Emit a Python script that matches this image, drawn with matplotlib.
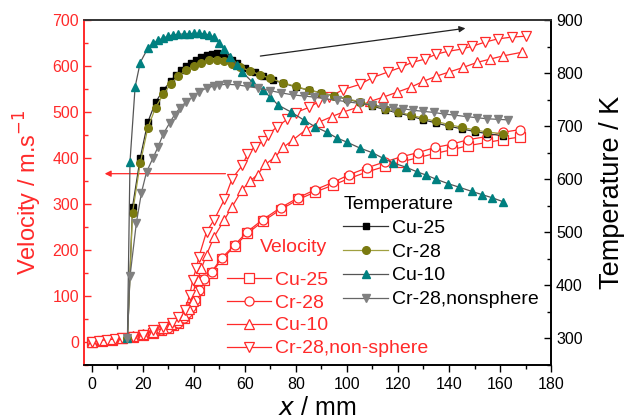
import matplotlib
matplotlib.use('Agg')
import matplotlib.pyplot as plt
from matplotlib.ticker import MultipleLocator

plt.rcParams['font.family'] = ['Liberation Sans', 'DejaVu Sans']

RED = '#ff2a2a'

# velocity data (left axis, m/s)
vx_cu25 = [0, 4, 8, 12, 16, 20, 24, 27, 30, 32, 34, 36, 37.5, 39, 40.5, 42, 44, 47, 51, 56,
           61, 67, 74, 81, 87.5, 94.5, 101, 108, 115, 121.5, 128, 134.5, 141, 147.5, 155, 161, 168]
v_cu25 = [0, 3, 5, 8, 11, 15, 20, 25, 31, 36, 42, 52, 62, 75, 92, 112, 135, 150, 180, 208,
          236, 262, 288, 310, 326, 341, 356, 370, 382, 392, 401, 410, 418, 427, 434, 440, 446]
vx_cr28 = vx_cu25
v_cr28 = [0, 3, 5, 8, 11, 15, 20, 25, 31, 36, 42, 52, 62, 75, 92, 112, 138, 153, 183, 211,
          240, 266, 292, 314, 331, 347, 364, 379, 392, 403, 412, 423, 430, 440, 447, 456, 462]
vx_cu10 = [0, 4, 8, 12, 16, 20, 24, 28, 31, 34, 36, 38, 39.5, 40.5, 41.5, 43, 45, 48, 52, 55,
           59, 62, 65, 68, 72, 75, 79, 84, 89, 94, 98.5, 104, 109, 114, 119.5, 125, 130, 135, 140, 145.5,
           151, 156, 161, 168.5]
v_cu10 = [0, 4, 6, 9, 12, 17, 22, 30, 38, 48, 58, 72, 90, 110, 135, 160, 190, 229, 266, 294,
          331, 350, 364, 386, 403, 423, 440, 462, 478, 490, 500, 510, 523, 532, 543, 554, 567, 578, 587, 597,
          608, 615, 622, 630]
vx_ns = [0, 3, 6, 9, 12, 16, 20, 24, 28, 31.5, 34, 36.5, 38.4, 39.6, 41, 42, 45, 48, 52, 55,
         59, 61, 64, 67, 69, 72.5, 76.5, 80, 85, 88.5, 93, 98.5, 105, 110, 116, 121, 125.5, 130.5, 135, 139.5,
         145, 149, 154, 159, 164.5, 170]
v_ns = [0, 3, 5, 6, 8, 11, 16, 26, 33, 41, 55, 70, 102, 135, 161, 185, 240, 266, 310, 355,
        384, 408, 425, 436, 451, 467, 484, 499, 510, 521, 532, 549, 560, 575, 587, 597, 608, 615, 626, 632,
        637, 643, 652, 659, 663, 665]

# temperature data (right axis, K)
tx_cu25 = [14, 16, 19, 22, 25, 28, 31, 33, 35, 37, 39, 41, 43, 45, 47, 49, 51, 53, 55, 57,
           60, 64, 67, 71, 75, 80, 85, 90, 95, 100, 105, 110, 115, 120, 125, 130, 135, 140, 145, 150,
           155, 161]
t_cu25 = [300, 548, 640, 708, 745, 768, 785, 797, 806, 814, 820, 825, 830, 834, 836, 838, 836, 830, 825, 819,
          810, 802, 795, 787, 781, 774, 768, 763, 757, 751, 745, 738, 731, 725, 719, 712, 706, 700, 695, 690,
          686, 682]
tx_cr28 = [14, 16, 19, 22, 25, 28, 31, 34, 37, 40, 43, 46, 49, 52, 55, 58, 62, 66, 70, 75,
           80, 85, 90, 95, 100, 105, 110, 115, 120, 125, 130, 135, 140, 145, 150, 155, 161]
t_cr28 = [300, 537, 630, 697, 735, 760, 780, 795, 806, 814, 820, 824, 825, 823, 818, 812, 804, 797, 790, 782,
          775, 768, 763, 757, 752, 746, 740, 733, 727, 721, 715, 709, 703, 698, 693, 689, 686]
tx_cu10 = [14, 15, 17, 19, 22, 24, 26, 28, 30, 32, 34, 36, 38, 40, 42, 44, 46, 48, 50, 52,
           54, 57, 59, 63, 67, 70, 73, 78, 83, 87.5, 92, 96, 100, 105, 110, 114, 118, 123, 127.5, 131,
           135, 139.5, 144, 149, 153, 157, 161]
t_cu10 = [300, 633, 774, 820, 847, 856, 862, 866, 870, 872, 873, 874, 874, 875, 875, 874, 872, 868, 857, 845,
          830, 815, 802, 783, 768, 755, 740, 727, 712, 699, 689, 678, 670, 659, 650, 640, 631, 623, 614, 608,
          600, 592, 585, 577, 571, 565, 558]
tx_ns = [14, 15, 17.5, 19.5, 21.5, 24, 26, 28, 30.5, 32.5, 34.5, 37, 39.5, 42, 45, 48, 50, 53, 57, 61,
         65, 70, 74, 79, 83, 87, 91, 96, 100, 105, 110, 114, 118, 122, 126, 130, 134, 138, 142, 147,
         151, 155, 159, 163]
t_ns = [300, 417, 518, 575, 614, 640, 661, 685, 706, 722, 734, 746, 755, 765, 772, 776, 778, 779, 778, 775,
        772, 767, 763, 759, 757, 755, 752, 749, 746, 743, 740, 737, 735, 733, 730, 728, 726, 723, 721, 718,
        716, 714, 713, 712]

fig = plt.figure(figsize=(6.32, 4.19), dpi=100)
ax = fig.add_axes([0.133, 0.129, 0.739, 0.823])
ax2 = ax.twinx()

# velocity curves
red_kw = dict(color=RED, lw=0.9, mfc='white', mec=RED, mew=0.9, ms=6.5)
l1, = ax.plot(vx_cu25, v_cu25, marker='s', label='Cu-25', **red_kw)
l2, = ax.plot(vx_cr28, v_cr28, marker='o', label='Cr-28', **red_kw)
l3, = ax.plot(vx_cu10, v_cu10, marker='^', label='Cu-10', **red_kw)
l4, = ax.plot(vx_ns, v_ns, marker='v', label='Cr-28,non-sphere', **red_kw)

# temperature curves
k1, = ax2.plot(tx_cu25, t_cu25, color='#333333', lw=0.9, marker='s', ms=5, mfc='black', mec='black', label='Cu-25')
k2, = ax2.plot(tx_cr28, t_cr28, color='#a0a040', lw=0.9, marker='o', ms=5.5, mfc='#7a7a10', mec='#7a7a10', label='Cr-28')
k3, = ax2.plot(tx_cu10, t_cu10, color='#555555', lw=0.9, marker='^', ms=6, mfc='#008080', mec='#008080', label='Cu-10')
k4, = ax2.plot(tx_ns, t_ns, color='#666666', lw=0.9, marker='v', ms=6, mfc='#808080', mec='#808080', label='Cr-28,nonsphere')

ax.set_xlim(-3, 180)
ax.set_ylim(-50, 700)
ax2.set_ylim(250, 900)

ax.xaxis.set_major_locator(MultipleLocator(20))
ax.xaxis.set_minor_locator(MultipleLocator(10))
ax.yaxis.set_major_locator(MultipleLocator(100))
ax.yaxis.set_minor_locator(MultipleLocator(50))
ax2.yaxis.set_major_locator(MultipleLocator(100))
ax2.yaxis.set_minor_locator(MultipleLocator(50))

ax.tick_params(axis='x', which='major', direction='out', length=5, width=1, labelsize=11.5, top=False)
ax.tick_params(axis='x', which='minor', direction='out', length=3, width=1, top=False)
ax.tick_params(axis='y', which='major', direction='in', length=5, width=1, colors=RED, labelsize=11.5)
ax.tick_params(axis='y', which='minor', direction='in', length=3, width=1, colors=RED)
ax2.tick_params(axis='y', which='major', direction='in', length=5, width=1, labelsize=11.5)
ax2.tick_params(axis='y', which='minor', direction='in', length=3, width=1)

for a in (ax, ax2):
    a.spines['left'].set_color(RED)
    a.spines['left'].set_linewidth(1.2)
    a.spines['top'].set_color('#333333')
    a.spines['top'].set_linewidth(1.2)
    a.spines['right'].set_linewidth(1.2)
    a.spines['bottom'].set_linewidth(1.2)

ax.set_xlabel(r'$x$ / mm', fontsize=18, labelpad=3)
ax.set_ylabel(r'Velocity / m.s$^{-1}$', fontsize=17, color=RED, labelpad=6)
ax2.set_ylabel('Temperature / K', fontsize=19.5, labelpad=12)

# arrows
ax.annotate('', xy=(4, 366), xytext=(53.5, 366),
            arrowprops=dict(arrowstyle='-|>', color=RED, lw=0.9, mutation_scale=9))
ax.annotate('', xy=(147.5, 683), xytext=(65, 621),
            arrowprops=dict(arrowstyle='-|>', color='#222222', lw=0.9, mutation_scale=9))

# legends
leg1 = ax2.legend(handles=[l1, l2, l3, l4], loc='upper left', bbox_to_anchor=(0.305, 0.272),
                  frameon=False, fontsize=14, numpoints=1, handlelength=2.3, handletextpad=0.2,
                  labelspacing=0.27, borderpad=0, borderaxespad=0)
for t in leg1.get_texts():
    t.set_color(RED)
ax2.text(0.448, 0.342, 'Velocity', transform=ax.transAxes, color=RED, fontsize=14, va='center', ha='center')
ax2.add_artist(leg1)

leg2 = ax2.legend(handles=[k1, k2, k3, k4], loc='upper left', bbox_to_anchor=(0.555, 0.49),
                  frameon=False, fontsize=14, numpoints=1, handlelength=2.3, handletextpad=0.2,
                  labelspacing=0.32, borderpad=0, borderaxespad=0, title='Temperature',
                  title_fontsize=14, alignment='left')

fig.savefig('out.png', dpi=100)
